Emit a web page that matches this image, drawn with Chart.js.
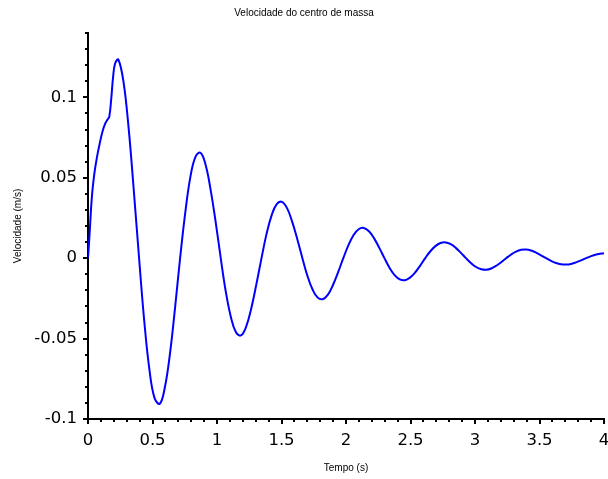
<!DOCTYPE html>
<html>
<head>
<meta charset="utf-8">
<title>Velocidade do centro de massa</title>
<script src="https://cdn.jsdelivr.net/npm/chart.js@4.4.1/dist/chart.umd.min.js"></script>
<style>
  html, body { margin: 0; padding: 0; background: #fff; }
  canvas { display: block; }
</style>
</head>
<body>
<canvas id="velChart" width="608" height="479"></canvas>
<script>
// tempo (s)
const tempo = [
  0, 0.01, 0.03, 0.05, 0.07, 0.09, 0.11, 0.13, 0.15, 0.165, 0.18, 0.195, 0.21, 0.235,
  0.275, 0.315, 0.355, 0.396, 0.436, 0.476, 0.516, 0.557,
  0.596, 0.636, 0.675, 0.714, 0.754, 0.793, 0.833, 0.872,
  0.911, 0.950, 0.990, 1.029, 1.068, 1.108, 1.147, 1.186,
  1.226, 1.265, 1.305, 1.345, 1.384, 1.424, 1.463, 1.503,
  1.543, 1.582, 1.622, 1.662, 1.701, 1.741, 1.780, 1.820,
  1.860, 1.899, 1.939, 1.979, 2.019, 2.058, 2.098, 2.138,
  2.178, 2.218, 2.258, 2.298, 2.337, 2.377, 2.417, 2.457,
  2.496, 2.536, 2.575, 2.614, 2.654, 2.693, 2.733, 2.772,
  2.812, 2.851, 2.891, 2.930, 2.970, 3.009, 3.049, 3.088,
  3.126, 3.165, 3.203, 3.242, 3.280, 3.318, 3.357, 3.395,
  3.434, 3.473, 3.511, 3.550, 3.589, 3.628, 3.666, 3.705,
  3.744, 3.783, 3.822, 3.861, 3.900, 3.940, 3.980, 4.0
];

// velocidade (m/s)
const velocidade = [
  0, 0.012, 0.038, 0.053, 0.063, 0.071, 0.078, 0.083, 0.086, 0.088, 0.099, 0.113, 0.121, 0.1235,
  0.1098, 0.0808, 0.0421, 0, -0.0390, -0.0692, -0.0870, -0.0905,
  -0.0803, -0.0590, -0.0307, 0, 0.0283, 0.0502, 0.0630, 0.0655,
  0.0582, 0.0428, 0.0223, 0, -0.0207, -0.0367, -0.0461, -0.0480,
  -0.0426, -0.0314, -0.0163, 0, 0.0151, 0.0268, 0.0336, 0.0350,
  0.0311, 0.0229, 0.0119, 0, -0.0110, -0.0195, -0.0245, -0.0255,
  -0.0227, -0.0167, -0.0087, 0, 0.0081, 0.0143, 0.0180, 0.0188,
  0.0167, 0.0123, 0.0064, 0, -0.0059, -0.0105, -0.0132, -0.0137,
  -0.0121, -0.0089, -0.0046, 0, 0.0043, 0.0075, 0.0094, 0.0098,
  0.0087, 0.0064, 0.0033, 0, -0.0031, -0.0055, -0.0069, -0.0072,
  -0.0064, -0.0047, -0.0025, 0, 0.0023, 0.0041, 0.0052, 0.0054,
  0.0048, 0.0035, 0.0018, 0, -0.0017, -0.0030, -0.0038, -0.0040,
  -0.0036, -0.0026, -0.0014, 0, 0.0013, 0.0023, 0.0029, 0.0030
];

// labelled (major) ticks
const xMajorTicks = [0, 0.5, 1, 1.5, 2, 2.5, 3, 3.5, 4];
const xTickLabels = ['0', '0.5', '1', '1.5', '2', '2.5', '3', '3.5', '4'];
const yMajorTicks = [-0.1, -0.05, 0, 0.05, 0.1];
const yTickLabels = ['-0.1', '-0.05', '0', '0.05', '0.1'];

function majorIndex(value, list) {
    return list.findIndex(m => Math.abs(m - value) < 1e-9);
}

// scilab-style short/long tick marks outside the axes
const axisTicks = {
    id: 'axisTicks',
    afterDraw(chart) {
        const ctx = chart.ctx;
        const xs = chart.scales.x;
        const ys = chart.scales.y;
        ctx.save();
        ctx.strokeStyle = '#000';
        ctx.lineWidth = 2;
        ctx.beginPath();
        xs.ticks.forEach(t => {
            const px = Math.round(xs.getPixelForValue(t.value));
            const len = majorIndex(t.value, xMajorTicks) >= 0 ? 5 : 3;
            ctx.moveTo(px, xs.top);
            ctx.lineTo(px, xs.top + len);
        });
        ys.ticks.forEach(t => {
            const py = Math.round(ys.getPixelForValue(t.value));
            const len = majorIndex(t.value, yMajorTicks) >= 0 ? 5 : 3;
            ctx.moveTo(ys.right, py);
            ctx.lineTo(ys.right - len, py);
        });
        ctx.stroke();
        ctx.restore();
    }
};

const tickFont = { family: 'DejaVu Sans, sans-serif', size: 16.5, lineHeight: 1.2 };
const smallFont = { family: 'Liberation Sans, Arial, sans-serif', size: 10, weight: 'normal', lineHeight: 1.2 };

new Chart(document.getElementById('velChart'), {
    type: 'line',
    data: {
        datasets: [{
            data: tempo.map((t, i) => ({ x: t, y: velocidade[i] })),
            borderColor: '#0000ff',
            borderWidth: 2,
            pointRadius: 0,
            fill: false,
            tension: 0.4
        }]
    },
    options: {
        responsive: false,
        animation: false,
        layout: { padding: 0 },
        plugins: {
            legend: { display: false },
            tooltip: { enabled: false },
            title: {
                display: true,
                text: 'Velocidade do centro de massa',
                color: '#000',
                font: smallFont,
                padding: { top: 7, bottom: 14 }
            }
        },
        scales: {
            x: {
                type: 'linear',
                min: 0,
                max: 4,
                afterFit: s => {
                    s.height = 60;
                    s.paddingLeft = 0;
                    s.paddingRight = 4;
                },
                border: { display: true, color: '#000', width: 2 },
                grid: { display: true, drawOnChartArea: false, drawTicks: false },
                ticks: {
                    stepSize: 0.1,
                    autoSkip: false,
                    maxRotation: 0,
                    minRotation: 0,
                    padding: 12,
                    color: '#000',
                    font: tickFont,
                    callback: v => {
                        const i = majorIndex(v, xMajorTicks);
                        return i >= 0 ? xTickLabels[i] : '';
                    }
                },
                title: {
                    display: true,
                    text: 'Tempo (s)',
                    color: '#000',
                    font: smallFont,
                    padding: { top: 15, bottom: 5 }
                }
            },
            y: {
                min: -0.1,
                max: 0.14,
                afterFit: s => { s.width = 88; },
                border: { display: true, color: '#000', width: 2 },
                grid: { display: true, drawOnChartArea: false, drawTicks: false },
                ticks: {
                    stepSize: 0.01,
                    autoSkip: false,
                    padding: 11,
                    color: '#000',
                    font: tickFont,
                    callback: v => {
                        const i = majorIndex(v, yMajorTicks);
                        return i >= 0 ? yTickLabels[i] : '';
                    }
                },
                title: {
                    display: true,
                    text: 'Velocidade (m/s)',
                    color: '#000',
                    font: smallFont,
                    padding: { top: 12, bottom: 10 }
                }
            }
        }
    },
    plugins: [axisTicks]
});
</script>
</body>
</html>
